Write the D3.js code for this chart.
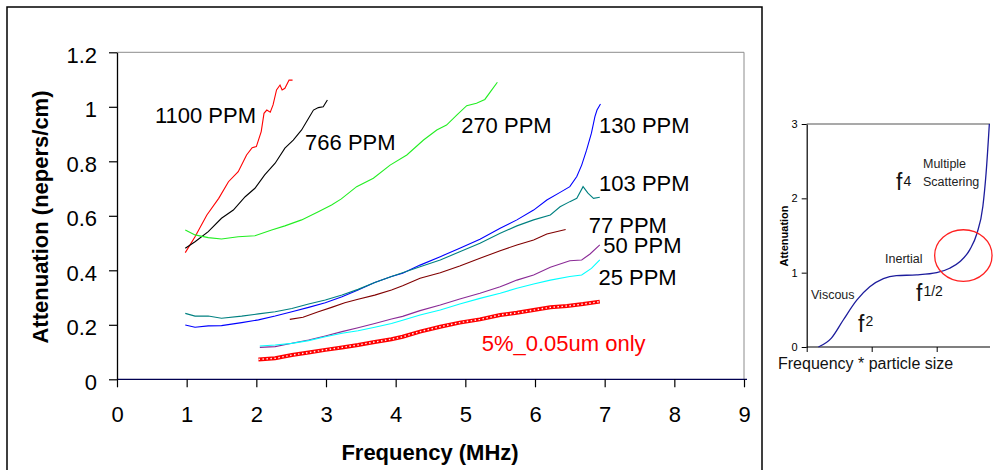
<!DOCTYPE html>
<html>
<head>
<meta charset="utf-8">
<script src="https://cdn.jsdelivr.net/npm/d3@7"></script>
<style>
  body { margin: 0; background: #fff; }
  svg { display: block; font-family: "Liberation Sans", Arial, sans-serif; }
</style>
</head>
<body>
<svg width="994" height="470"></svg>
<script>
// attenuation (nepers/cm) vs frequency (MHz)
const ppm1100 = [[0.98,0.465],[1.12,0.523],[1.29,0.603],[1.46,0.664],[1.60,0.725],[1.74,0.762],[1.86,0.823],[1.94,0.85],[2.0,0.854],[2.07,0.909],[2.11,0.976],[2.15,0.988],[2.2,0.98],[2.24,1.007],[2.29,1.062],[2.34,1.08],[2.37,1.062],[2.41,1.068],[2.47,1.098],[2.52,1.098]];
const ppm766 = [[0.98,0.481],[1.12,0.505],[1.31,0.542],[1.50,0.591],[1.67,0.621],[1.84,0.67],[1.98,0.701],[2.12,0.75],[2.27,0.793],[2.41,0.848],[2.53,0.878],[2.65,0.915],[2.75,0.958],[2.82,0.988],[2.89,0.997],[2.96,1.0],[3.02,1.025]];
const ppm270 = [[0.98,0.548],[1.12,0.53],[1.31,0.52],[1.50,0.515],[1.74,0.523],[1.98,0.527],[2.22,0.548],[2.41,0.563],[2.65,0.585],[2.89,0.615],[3.08,0.64],[3.22,0.662],[3.44,0.707],[3.68,0.738],[3.92,0.786],[4.16,0.823],[4.40,0.878],[4.59,0.915],[4.73,0.933],[4.88,0.97],[5.02,1.004],[5.16,1.013],[5.28,1.027],[5.38,1.062],[5.46,1.09]];
const ppm130 = [[0.98,0.199],[1.12,0.191],[1.31,0.196],[1.50,0.197],[1.79,0.208],[2.03,0.218],[2.27,0.232],[2.51,0.248],[2.75,0.264],[2.99,0.281],[3.23,0.303],[3.46,0.328],[3.70,0.355],[3.94,0.377],[4.10,0.389],[4.35,0.419],[4.64,0.45],[4.92,0.481],[5.21,0.514],[5.50,0.554],[5.74,0.585],[5.98,0.621],[6.17,0.658],[6.36,0.686],[6.50,0.707],[6.60,0.744],[6.67,0.786],[6.74,0.841],[6.81,0.903],[6.86,0.964],[6.89,0.988],[6.94,1.01]];
const ppm103 = [[0.98,0.242],[1.12,0.232],[1.31,0.232],[1.50,0.224],[1.79,0.232],[2.03,0.24],[2.27,0.248],[2.51,0.26],[2.75,0.276],[2.99,0.291],[3.23,0.309],[3.46,0.33],[3.70,0.355],[3.94,0.377],[4.35,0.413],[4.64,0.438],[4.92,0.468],[5.21,0.499],[5.50,0.536],[5.74,0.563],[5.98,0.585],[6.22,0.603],[6.36,0.633],[6.50,0.652],[6.60,0.664],[6.69,0.707],[6.76,0.683],[6.84,0.664],[6.93,0.668]];
const ppm77 = [[2.48,0.22],[2.67,0.228],[2.89,0.248],[3.08,0.264],[3.27,0.281],[3.46,0.294],[3.70,0.309],[3.94,0.328],[4.10,0.343],[4.35,0.371],[4.64,0.391],[4.92,0.416],[5.21,0.444],[5.50,0.472],[5.74,0.493],[5.98,0.511],[6.17,0.533],[6.44,0.55]];
const ppm50 = [[2.05,0.117],[2.27,0.12],[2.51,0.132],[2.75,0.144],[2.99,0.159],[3.23,0.175],[3.46,0.189],[3.70,0.205],[3.94,0.221],[4.10,0.231],[4.35,0.252],[4.64,0.273],[4.92,0.295],[5.21,0.316],[5.50,0.34],[5.74,0.364],[5.98,0.383],[6.22,0.411],[6.50,0.435],[6.67,0.438],[6.79,0.46],[6.93,0.493]];
const ppm25 = [[2.05,0.122],[2.27,0.126],[2.51,0.132],[2.75,0.142],[2.99,0.156],[3.23,0.169],[3.46,0.178],[3.70,0.191],[3.94,0.205],[4.10,0.217],[4.35,0.236],[4.64,0.254],[4.92,0.276],[5.21,0.297],[5.50,0.316],[5.74,0.334],[5.98,0.35],[6.22,0.364],[6.50,0.377],[6.67,0.383],[6.81,0.407],[6.93,0.438]];
const only005 = [[2.03,0.073],[2.27,0.077],[2.51,0.089],[2.75,0.098],[2.99,0.108],[3.23,0.117],[3.46,0.126],[3.70,0.137],[3.94,0.147],[4.10,0.156],[4.35,0.175],[4.64,0.193],[4.92,0.208],[5.21,0.22],[5.50,0.236],[5.74,0.244],[5.98,0.254],[6.22,0.264],[6.46,0.269],[6.69,0.276],[6.93,0.285]];

const seriesNames = ["1100 PPM", "766 PPM", "270 PPM", "130 PPM", "103 PPM", "77 PPM", "50 PPM", "25 PPM", "5%_0.05um only"];
const xTicks = [0, 1, 2, 3, 4, 5, 6, 7, 8, 9];
const yTicks = [0, 0.2, 0.4, 0.6, 0.8, 1, 1.2];

// inset: schematic attenuation vs frequency * particle size
const insetCurve = [[0.18,0],[0.38,0.12],[0.56,0.36],[0.77,0.63],[0.97,0.81],[1.18,0.92],[1.38,0.96],[1.69,0.97],[2.0,1.0],[2.2,1.06],[2.36,1.15],[2.51,1.31],[2.62,1.53],[2.71,1.89],[2.76,2.34],[2.81,3.0]];
const insetYTicks = [0, 1, 2, 3];
const insetXTicks = [0, 1, 2];

const svg = d3.select("svg");

// outer frame of the main chart
svg.append("rect")
    .attr("x", 7).attr("y", 7)
    .attr("width", 755).attr("height", 490)
    .attr("fill", "none")
    .attr("stroke", "#000")
    .attr("stroke-width", 1.5);

const x = d3.scaleLinear().domain([0, 9]).range([117, 744]);
const y = d3.scaleLinear().domain([0, 1.2]).range([379.3, 52.3]);

// plot area border (top + right, grey)
svg.append("path")
    .attr("d", `M${x(0)},${y(1.2)}H${x(9)}V${y(0)}`)
    .attr("fill", "none")
    .attr("stroke", "#8c8c8c")
    .attr("stroke-width", 1);

const xAxis = svg.append("g")
    .attr("transform", `translate(0,${y(0)})`)
    .call(d3.axisBottom(x).tickValues(xTicks).tickSize(8).tickPadding(19).tickSizeOuter(0));
const yAxis = svg.append("g")
    .attr("transform", `translate(${x(0)},0)`)
    .call(d3.axisLeft(y).tickValues(yTicks).tickSize(8).tickPadding(12).tickSizeOuter(0)
        .tickFormat(d => d3.format("~g")(d)));

[xAxis, yAxis].forEach(g => {
    g.select(".domain").attr("stroke", "#000").attr("stroke-width", 1.3);
    g.selectAll(".tick line").attr("stroke", "#000").attr("stroke-width", 1.2);
    g.selectAll(".tick text").attr("fill", "#000").style("font-size", "22px")
        .style("font-family", "'Liberation Sans', Arial, sans-serif");
});
// x axis line runs a little past the last tick
xAxis.select(".domain").attr("stroke", "#000050").attr("d", `M${x(0)},0H${x(9) + 3}`);
yAxis.selectAll(".tick text").attr("dy", "0.45em");

const line = d3.line().x(d => x(d[0])).y(d => y(d[1]));

const series = [
    { data: ppm1100, color: "#ff0000" },
    { data: ppm766, color: "#000000" },
    { data: ppm270, color: "#22ee22" },
    { data: ppm130, color: "#0000ff" },
    { data: ppm103, color: "#008080" },
    { data: ppm77, color: "#800000" },
    { data: ppm50, color: "#8a2b96" },
    { data: ppm25, color: "#00ffff" }
];

series.forEach(s => {
    svg.append("path")
        .datum(s.data)
        .attr("d", line)
        .attr("fill", "none")
        .attr("stroke", s.color)
        .attr("stroke-width", 1.1);
});

// 5% series: dense hollow square markers
svg.append("path")
    .datum(only005)
    .attr("d", line)
    .attr("fill", "none")
    .attr("stroke", "#ff0000")
    .attr("stroke-width", 4);
svg.append("path")
    .datum(only005)
    .attr("d", line)
    .attr("fill", "none")
    .attr("stroke", "#fff0f0")
    .attr("stroke-width", 1.4)
    .attr("stroke-dasharray", "1.5,2.5");

// series labels (data coordinates)
const labelAt = [[0.545, 0.94], [2.70, 0.841], [4.94, 0.905], [6.92, 0.905], [6.92, 0.692],
                 [6.77, 0.536], [6.98, 0.465], [6.91, 0.346], [5.235, 0.105]];
seriesNames.forEach((name, i) => {
    svg.append("text")
        .attr("x", x(labelAt[i][0]))
        .attr("y", y(labelAt[i][1]))
        .style("font-size", "22px")
        .attr("fill", i === 8 ? "#ff0000" : "#000")
        .text(name);
});

// axis titles
svg.append("text")
    .attr("x", 430)
    .attr("y", 460)
    .attr("text-anchor", "middle")
    .style("font-size", "22px")
    .style("font-weight", "bold")
    .text("Frequency (MHz)");

svg.append("text")
    .attr("transform", "translate(47.5,217) rotate(-90)")
    .attr("text-anchor", "middle")
    .style("font-size", "22px")
    .style("font-weight", "bold")
    .text("Attenuation (nepers/cm)");

// ---- inset ----
const ix = d3.scaleLinear().domain([0, 3]).range([806.7, 1001.7]);
const iy = d3.scaleLinear().domain([0, 3]).range([347, 124]);

svg.append("line")
    .attr("x1", ix(0)).attr("x2", 990)
    .attr("y1", iy(3)).attr("y2", iy(3))
    .attr("stroke", "#555").attr("stroke-width", 1.2);

const ixAxis = svg.append("g")
    .attr("transform", `translate(0,${iy(0)})`)
    .call(d3.axisBottom(ix).tickValues(insetXTicks).tickSize(5).tickSizeOuter(0).tickFormat(""));
ixAxis.select(".domain").attr("d", `M${ix(0)},0H990`);
const iyAxis = svg.append("g")
    .attr("transform", `translate(${ix(0)},0)`)
    .call(d3.axisLeft(iy).tickValues(insetYTicks).tickSize(5).tickPadding(4).tickSizeOuter(0)
        .tickFormat(d3.format("d")));
[ixAxis, iyAxis].forEach(g => {
    g.select(".domain").attr("stroke", "#000").attr("stroke-width", 1.2);
    g.selectAll(".tick line").attr("stroke", "#000");
    g.selectAll(".tick text").attr("fill", "#000").style("font-size", "11px")
        .style("font-family", "'Liberation Sans', Arial, sans-serif");
});

svg.append("path")
    .datum(insetCurve)
    .attr("d", d3.line().x(d => ix(d[0])).y(d => iy(d[1])).curve(d3.curveMonotoneX))
    .attr("fill", "none")
    .attr("stroke", "#1c1c9c")
    .attr("stroke-width", 1.3);

svg.append("ellipse")
    .attr("cx", ix(2.41)).attr("cy", iy(1.23))
    .attr("rx", 28.7).attr("ry", 25.8)
    .attr("fill", "none")
    .attr("stroke", "#ff2020")
    .attr("stroke-width", 1.3);

const smallText = (tx, ty, str) => svg.append("text")
    .attr("x", tx).attr("y", ty)
    .style("font-size", "12.5px")
    .attr("fill", "#222")
    .text(str);
smallText(923, 168, "Multiple");
smallText(923, 186, "Scattering");
smallText(885, 263, "Inertial");
smallText(811, 299, "Viscous");

const power = (tx, ty, sup, dy) => {
    const t = svg.append("text").attr("x", tx).attr("y", ty)
        .style("font-size", "23px").attr("fill", "#111");
    t.append("tspan").text("f");
    t.append("tspan").attr("dx", 1).attr("dy", dy).style("font-size", "14px").text(sup);
};
power(896, 190, "4", -4);
power(916, 301, "1/2", -5);
power(858, 331.5, "2", -6);

svg.append("text")
    .attr("x", 778)
    .attr("y", 369)
    .style("font-size", "16px")
    .attr("fill", "#111")
    .text("Frequency * particle size");

svg.append("text")
    .attr("transform", "translate(787.5,236) rotate(-90)")
    .attr("text-anchor", "middle")
    .style("font-size", "11px")
    .style("font-weight", "bold")
    .text("Attenuation");
</script>
</body>
</html>
